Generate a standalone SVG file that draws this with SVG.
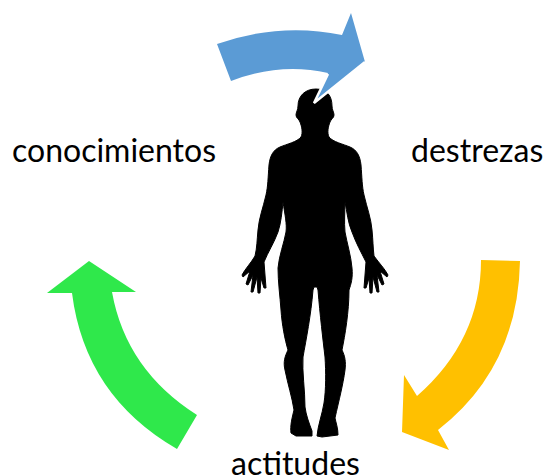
<svg xmlns="http://www.w3.org/2000/svg" width="545" height="476" viewBox="0 0 545 476">
<style>
text{font-family:"Lato","Noto Sans",sans-serif;font-size:32px;fill:#000}
</style>
<rect width="545" height="476" fill="#fff"/>
<g id="person">
<path fill="#000" stroke="#000" stroke-width="1" stroke-linejoin="round" d="M316 89C305 89 298 96 298 106C298 110 296 112 296 115C296 118 299 119 300 122C302 127 303 133 301 137C297 142 287 144 280 147C273 150 270 156 269 165C268 178 268 186 266 195C263 208 259 218 258 230C257 240 257 248 255 256C251 263 245 269 242 275L243 277L250 271L246 284L248 285L253 275L251 292L253 292L257 277L258 293L260 293L261 278L264 288L266 288L264 262C268 252 274 243 278 232C281 223 282 212 283 202C285 215 287 224 286 232C284 243 279 256 278 268C278 282 280 296 281 310C282 325 285 340 288 350C285 356 283 362 285 370C288 385 292 397 294 410C292 418 290 426 291 433L296 436L312 436L312 431C309 423 306 415 305 407C305 390 302 372 303 357C306 340 311 315 313 290L314 287L317 287L318 290C320 315 323 340 325 357C326 372 326 390 324 403C322 415 318 425 317 436L322 437L338 435C338 428 336 423 335 418C339 400 343 385 345 370C346 362 345 356 342 350C345 335 349 312 349 290C351 284 353 278 352 268C351 256 347 243 345 232C344 222 345 212 345 202C347 212 348 223 352 232C356 243 361 252 366 262L364 288L366 288L369 278L370 293L372 293L373 277L377 292L379 292L377 275L382 285L384 284L380 271L387 277L388 275C385 269 379 263 374 256C373 248 373 240 372 230C371 218 367 208 364 195C362 186 362 178 361 165C360 156 357 150 350 147C343 144 333 142 329 137C327 133 328 127 330 122C331 119 334 118 334 115C334 112 332 110 332 106C332 96 327 89 316 89Z"/>
</g>
<g id="connectors">
<path id="arrow-blue" fill="#5b9bd5" d="M217 44Q280 22 342 35L351 13L365 62L314 103L328 73Q280 62 231 81Z"/>
<path fill="none" stroke="#fff" stroke-width="2.5" d="M328 74L314 103L365 62"/>
<path id="arrow-yellow" fill="#ffc000" d="M481 260L520 261Q518 368 438 430L449 450L402 432L404 375L417 396Q481 340 481 260Z"/>
<path id="arrow-green" fill="#2fe84b" d="M89 261L136 292L112 292Q126 370 197 415L177 449Q85 396 72 293L47 293Z"/>
</g>
<g id="node-conocimientos"><text x="12" y="162">conocimientos</text></g>
<g id="node-destrezas"><text x="411" y="162">destrezas</text></g>
<g id="node-actitudes"><text x="231" y="475">actitudes</text></g>
</svg>
